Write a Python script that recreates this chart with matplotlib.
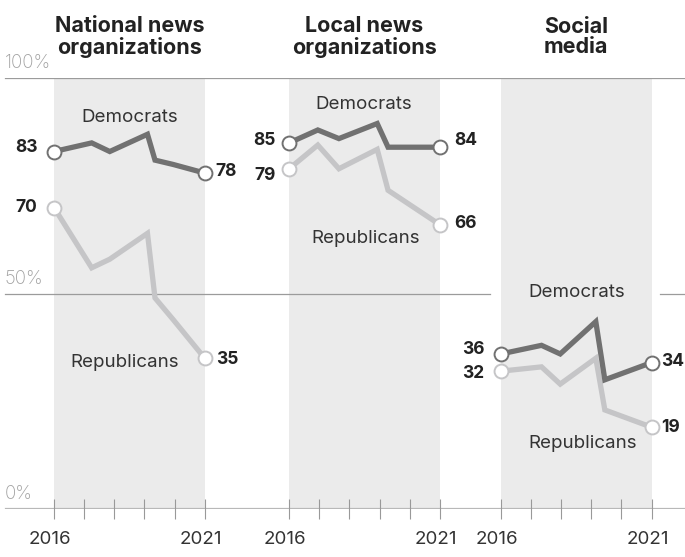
import numpy as np
import matplotlib
matplotlib.use('Agg')
import matplotlib.pyplot as plt
from matplotlib.transforms import ScaledTranslation

plt.rcParams['font.family'] = ['Inter', 'DejaVu Sans']

# 패널 제목
titles = ['National news\norganizations', 'Local news\norganizations', 'Social\nmedia']

# 조사 시점 (연 단위, 소수)
years_nat = [2016.0, 2017.25, 2017.85, 2019.1, 2019.35, 2019.95, 2021.0]
years_loc = [2016.0, 2016.95, 2017.65, 2018.92, 2019.28, 2021.0]
years_soc = [2016.0, 2017.35, 2017.97, 2019.15, 2019.45, 2021.0]

# % trust
dem_nat = [83, 85, 83, 87, 81, 80, 78]
rep_nat = [70, 56, 58, 64, 49, 44, 35]
dem_loc = [85, 88, 86, 89.5, 84, 84]
rep_loc = [79, 84.5, 79, 83.5, 74, 66]
dem_soc = [36, 38, 36, 43.5, 30, 34]
rep_soc = [32, 33, 29, 35, 23, 19]

tick_years = [2016, 2017, 2018, 2019, 2020, 2021]

DEM = '#717171'
REP = '#c5c5c7'
TXT = '#222222'

fig = plt.figure(figsize=(6.85, 5.57), dpi=100)
ax = fig.add_axes([0, 48 / 557, 1, (509 - 78.3) / 557])
ppy = 30.15                      # pixels per year
x0 = 2016 - 54 / ppy
ax.set_xlim(x0, x0 + 685 / ppy)
ax.set_ylim(0, 100)
for s in ax.spines.values():
    s.set_visible(False)
ax.set_yticks([])

offsets = [0, 7.80, 14.82]

# gridlines
ax.axhline(100, xmin=5 / 685, color='#9b9b9b', lw=0.9, zorder=1)
ax.axhline(50, xmin=5 / 685, xmax=490 / 685, color='#9b9b9b', lw=0.9, zorder=1)
ax.axhline(50, xmin=660 / 685, color='#9b9b9b', lw=0.9, zorder=1)
ax.axhline(0, xmin=6 / 685, color='#b8b8b8', lw=1.6, zorder=1)
for val, lab in [(100, '100%'), (50, '50%'), (0, '0%')]:
    ax.text(5 / 685, val + 1.4, lab, transform=ax.get_yaxis_transform(),
            ha='left', va='bottom', fontsize=13.5, color='#a0a0a0', fontweight='light')

panels = [
    (years_nat, dem_nat, rep_nat),
    (years_loc, dem_loc, rep_loc),
    (years_soc, dem_soc, rep_soc),
]

# (dx, dy) in points for start / end labels
lab_off = [
    [(-12, 3), (8, 1), (-12, 0), (8, -1)],
    [(-10, 2), (10, 5), (-10, -5), (10, 1)],
    [(-12, 3), (7, 1), (-12, -2), (7, 0)],
]
# series label positions (year, value)
name_pos = [
    [(2018.5, 91), (2018.35, 34)],
    [(2018.48, 94), (2018.54, 62.7)],
    [(2018.5, 50.2), (2018.7, 15.3)],
]

ticks, ticklabels = [], []
for i, (yrs, dem, rep) in enumerate(panels):
    off = offsets[i]
    ax.axvspan(2016 + off, 2021 + off, color='#ebebeb', lw=0, zorder=0)
    x = np.array(yrs) + off
    for j, (vals, col) in enumerate([(rep, REP), (dem, DEM)]):
        ax.plot(x, vals, color=col, lw=3.8, solid_joinstyle='miter', zorder=3 + j)
        ax.plot([x[0], x[-1]], [vals[0], vals[-1]], 'o', ms=10, mfc='white',
                mec=col, mew=1.4, zorder=5 + j)
    for k, vals in enumerate([dem, rep]):
        (dx1, dy1), (dx2, dy2) = lab_off[i][2 * k], lab_off[i][2 * k + 1]
        ax.annotate(f'{vals[0]:g}', (x[0], vals[0]), xytext=(dx1, dy1),
                    textcoords='offset points', ha='right', va='center',
                    fontsize=12.5, fontweight='bold', color=TXT)
        ax.annotate(f'{vals[-1]:g}', (x[-1], vals[-1]), xytext=(dx2, dy2),
                    textcoords='offset points', ha='left', va='center',
                    fontsize=12.5, fontweight='bold', color=TXT, annotation_clip=False)
    for (nx, ny), name in zip(name_pos[i], ['Democrats', 'Republicans']):
        ax.text(nx + off, ny, name, ha='center', va='center', fontsize=13.5, color='#333333')
    ax.text(2018.5 + off, 109.6, titles[i], ha='center', va='center',
            fontsize=15.5, fontweight='bold', color=TXT, linespacing=1.05)
    for t in tick_years:
        ticks.append(t + off)
        ticklabels.append(str(t) if t in (2016, 2021) else '')

ax.set_xticks(ticks)
ax.set_xticklabels(ticklabels)
ax.tick_params(axis='x', direction='inout', length=14.4, width=0.8, color='#999999',
               pad=9, labelsize=13.5, labelcolor='#333333')
for lab in ax.get_xticklabels():
    lab.set_transform(lab.get_transform() + ScaledTranslation(-4 / 100, 0, fig.dpi_scale_trans))

fig.savefig('out.png', dpi=100)
